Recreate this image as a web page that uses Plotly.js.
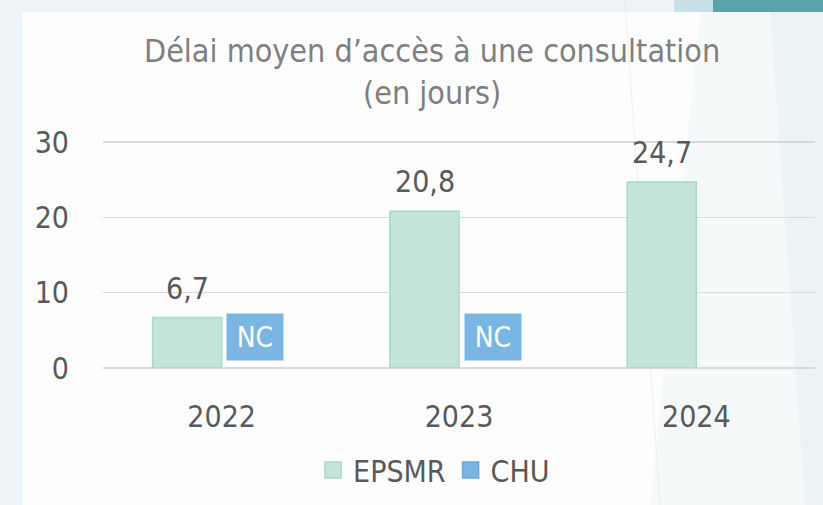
<!DOCTYPE html>
<html><head><meta charset="utf-8">
<script src="https://cdn.plot.ly/plotly-3.0.1.min.js"></script>
<style>
html,body{margin:0;padding:0;width:823px;height:505px;overflow:hidden;background:#eef3f7;}
#deco{position:absolute;left:0;top:0;}
#chart{position:absolute;left:0;top:0;width:823px;height:505px;}
</style></head>
<body>
<svg id="deco" width="823" height="505">
  <rect x="22" y="12" width="801" height="493" fill="#fdfdfd"/>
  <polygon points="674,0 823,0 823,12 674,12" fill="#c7e0e8"/>
  <polygon points="713,0 823,0 823,12 713,12" fill="#5aa3ad"/>
  <polygon points="700,12 823,12 823,505 650,505" fill="rgba(215,232,238,0.18)"/>
  <polygon points="770,12 823,12 823,505 805,505" fill="rgba(205,228,235,0.25)"/>
  <line x1="625" y1="0" x2="660" y2="505" stroke="rgba(170,180,185,0.18)" stroke-width="1"/>
</svg>
<div id="chart"></div>
<script>
const categories = ['2022', '2023', '2024'];
const epsmrValues = [6.7, 20.8, 24.7];
const chuValues = [null, null, null];
const chuLabels = ['NC', 'NC', ''];
const yTicks = [0, 10, 20, 30];
const seriesNames = ['EPSMR', 'CHU'];
const seriesColors = ['#c4e4d9', '#7ab6e3'];
const seriesLines = ['#a9d8c7', '#6aa8d8'];
const titleText = 'Délai moyen d’accès à une consultation<br>(en jours)';

const FONT = "'DejaVu Sans Condensed', 'Liberation Sans Narrow', 'DejaVu Sans', sans-serif";
const fmt = v => v.toFixed(1).replace('.', ',');

const traces = [
  {type: 'bar', name: seriesNames[0], x: categories, y: epsmrValues, showlegend: false,
   marker: {color: seriesColors[0], line: {color: seriesLines[0], width: 1.5}}, hoverinfo: 'skip'},
  {type: 'bar', name: seriesNames[1], x: categories, y: chuValues, showlegend: false,
   marker: {color: seriesColors[1], line: {color: seriesLines[1], width: 1.5}}, hoverinfo: 'skip'}
];
// legend entries with larger square swatches
seriesNames.forEach((n, k) => {
  traces.push({type: 'scatter', mode: 'markers', name: n, x: [null], y: [null], hoverinfo: 'skip',
    marker: {symbol: 'square', size: 16, color: seriesColors[k], line: {color: seriesLines[k], width: 1.5}}});
});

const annotations = [];
categories.forEach((c, i) => {
  annotations.push({x: i, y: epsmrValues[i], xref: 'x', yref: 'y', xshift: -34.5, yshift: 10,
    yanchor: 'bottom', showarrow: false, text: fmt(epsmrValues[i]),
    font: {family: FONT, size: 30, color: '#595959'}});
  if (chuLabels[i]) {
    annotations.push({x: i, y: 0, xref: 'x', yref: 'y', xshift: 33.5, yshift: 7,
      yanchor: 'bottom', showarrow: false, text: chuLabels[i],
      width: 50, height: 40, borderpad: 3, bgcolor: '#7ab6e3',
      font: {family: FONT, size: 28, color: '#ffffff'}});
  }
});

const layout = {
  width: 823, height: 505,
  paper_bgcolor: 'rgba(0,0,0,0)', plot_bgcolor: 'rgba(0,0,0,0)',
  margin: {l: 103, r: 8, t: 140, b: 137},
  font: {family: FONT, color: '#595959'},
  title: {text: titleText, x: 0.525, xanchor: 'center', yref: 'container', y: 0.877, yanchor: 'top',
    font: {family: FONT, size: 32, color: '#7f7f7f'}},
  barmode: 'group', bargap: 0.418, bargroupgap: 0,
  xaxis: {type: 'category', categoryorder: 'array', categoryarray: categories, range: [-0.5, 2.5],
    showgrid: false, showline: false, zeroline: false,
    ticks: 'outside', ticklen: 22, tickcolor: 'rgba(0,0,0,0)',
    tickfont: {family: FONT, size: 30, color: '#595959'}},
  yaxis: {range: [0, 30.27], tickvals: yTicks, showgrid: true, gridcolor: '#d9d9d9', gridwidth: 1.5,
    zeroline: true, zerolinecolor: '#d9d9d9', zerolinewidth: 2, showline: false,
    ticks: 'outside', ticklen: 27, tickcolor: 'rgba(0,0,0,0)',
    tickfont: {family: FONT, size: 30, color: '#595959'}},
  showlegend: true,
  legend: {orientation: 'h', x: 0.465, xanchor: 'center', y: -0.447, yanchor: 'middle',
    font: {family: FONT, size: 30, color: '#595959'}, itemwidth: 30, bgcolor: 'rgba(0,0,0,0)'},
  annotations: annotations
};

Plotly.newPlot('chart', traces, layout, {staticPlot: true, displayModeBar: false});
</script>
</body></html>
